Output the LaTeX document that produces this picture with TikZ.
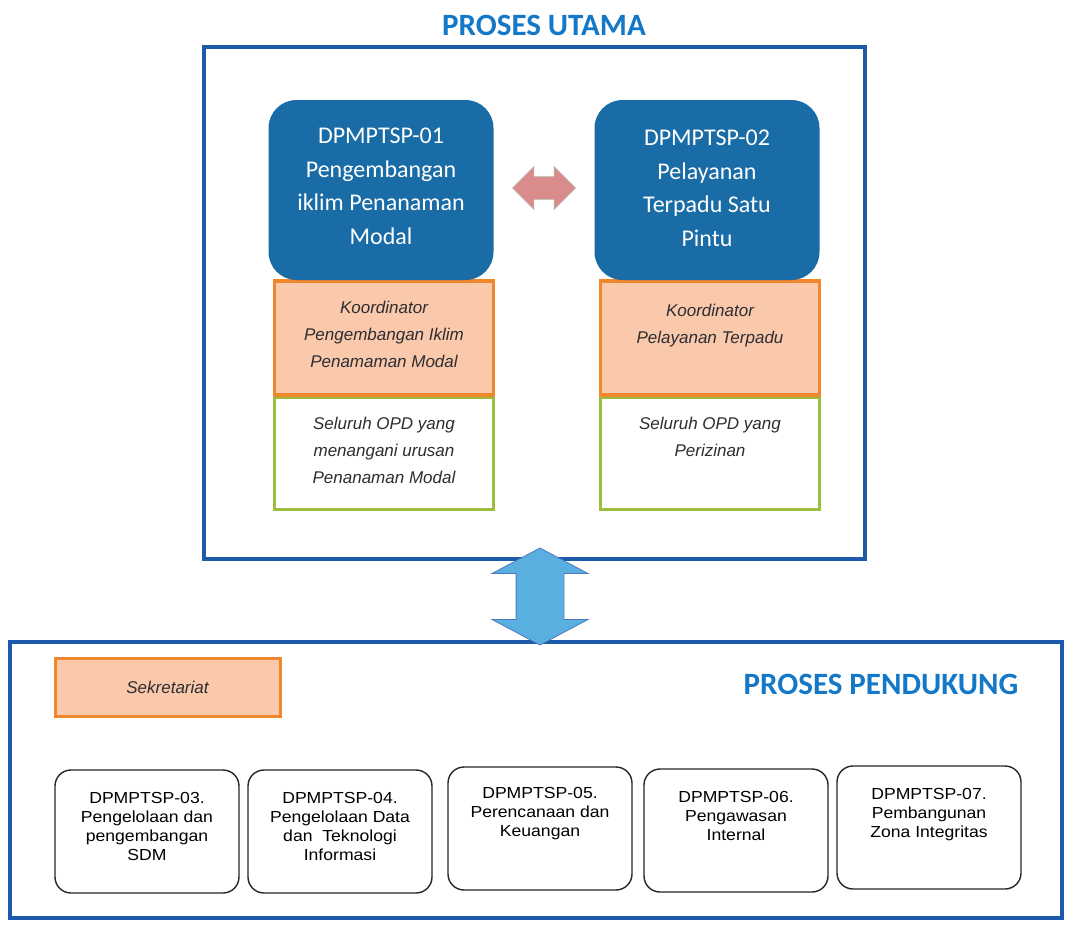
\documentclass[tikz,border=0pt]{standalone}
\usepackage{fontspec}
\usepackage{tikz}
\usetikzlibrary{shapes.arrows,calc}
\newfontfamily\calibri{Carlito}
\newfontfamily\arial{Liberation Sans}
\newfontfamily\arialwide[FakeStretch=1.1]{Liberation Sans}
\definecolor{frameblue}{RGB}{30,90,170}
\definecolor{titleblue}{RGB}{20,120,200}
\definecolor{procblue}{RGB}{25,108,165}
\definecolor{kpeach}{RGB}{250,200,170}
\definecolor{korange}{RGB}{240,135,45}
\definecolor{ogreen}{RGB}{155,190,60}
\definecolor{txtgray}{RGB}{45,45,50}
\definecolor{pinkarrow}{RGB}{218,140,140}
\definecolor{skyarrow}{RGB}{90,175,225}

\begin{document}
\begin{tikzpicture}
[x=1pt,y=-1pt,
judul/.style={font=\calibri\bfseries\fontsize{31}{36}\selectfont,text=titleblue,inner sep=0pt},
bingkai/.style={draw=frameblue,line width=3.5pt,inner sep=0pt},
proses/.style={fill=procblue,rounded corners=28pt,minimum width=225pt,minimum height=180pt,inner sep=0pt},
prosesteks/.style={anchor=north,text=white,align=center,inner sep=0pt,font=\calibri\fontsize{24}{33.5}\selectfont},
koord/.style={draw=korange,fill=kpeach,line width=3.5pt,minimum width=219pt,minimum height=114pt,inner sep=0pt},
opd/.style={draw=ogreen,fill=white,line width=3pt,minimum width=219pt,minimum height=112pt,inner sep=0pt},
miring/.style={anchor=north,text=txtgray,align=center,inner sep=0pt,font=\arial\itshape\fontsize{17}{27}\selectfont},
dukung/.style={draw=black!85,fill=white,line width=1.4pt,rounded corners=16pt,minimum width=184pt,minimum height=123pt,inner sep=0pt},
dukungteks/.style={anchor=north,text=black,align=center,inner sep=0pt,font=\arialwide\fontsize{16}{19}\selectfont}]
\useasboundingbox (0,0) rectangle (1069,926);

\node[judul] (judulutama) at (544,25) {PROSES UTAMA};
\node[bingkai,minimum width=661pt,minimum height=512pt] (utama) at (534.5,303) {};

\node[opd] (opd1) at (384,453) {};
\node[opd] (opd2) at (710,453) {};
\node[koord] (koord1) at (384,338) {};
\node[koord] (koord2) at (710,338) {};
\node[proses] (dp1) at (381,190) {};
\node[proses] (dp2) at (707,190) {};

\node[prosesteks] (dp1teks) at ([yshift=-28pt]dp1.north) {DPMPTSP-01\\Pengembangan\\iklim Penanaman\\Modal};
\node[prosesteks] (dp2teks) at ([yshift=-30pt]dp2.north) {DPMPTSP-02\\Pelayanan\\Terpadu Satu\\Pintu};
\node[miring] (koord1teks) at ([yshift=-22pt]koord1.north) {Koordinator\\Pengembangan Iklim\\Penamaman Modal};
\node[miring] (koord2teks) at ([yshift=-25pt]koord2.north) {Koordinator\\Pelayanan Terpadu};
\node[miring] (opd1teks) at ([yshift=-21pt]opd1.north) {Seluruh OPD yang\\menangani urusan\\Penanaman Modal};
\node[miring] (opd2teks) at ([yshift=-21pt]opd2.north) {Seluruh OPD yang\\Perizinan};

\node[double arrow,fill=pinkarrow,draw=gray!60,line width=0.6pt,minimum height=63pt,
  inner xsep=0pt,inner ysep=11pt,double arrow head extend=10pt,yshift=2pt] (tukar) at ($(dp1.east)!0.5!(dp2.west)$) {};

\node[bingkai,minimum width=1052pt,minimum height=276pt] (pendukung) at (536,780) {};
\node[double arrow,fill=skyarrow,draw=frameblue!80,line width=0.8pt,rotate=90,minimum height=97pt,
  inner xsep=0pt,inner ysep=23.5pt,double arrow head extend=24pt,double arrow tip angle=124] (hubung) at (540,596.5) {};

\node[draw=korange,fill=kpeach,line width=3pt,minimum width=225pt,minimum height=58pt,
  text=txtgray,font=\arial\itshape\fontsize{17}{20}\selectfont] (sekretariat) at (167.5,687) {Sekretariat};
\node[judul] (judulpendukung) at (881,684) {PROSES PENDUKUNG};

\node[dukung] (dp3) at (147,831.5) {};
\node[dukung] (dp4) at (340,831.5) {};
\node[dukung] (dp5) at (540,828.5) {};
\node[dukung] (dp6) at (736,830.5) {};
\node[dukung] (dp7) at (929,827.5) {};
\node[dukungteks] (dp3teks) at ([yshift=-23pt]dp3.north) {DPMPTSP-03.\\Pengelolaan dan\\pengembangan\\SDM};
\node[dukungteks] (dp4teks) at ([yshift=-23pt]dp4.north) {DPMPTSP-04.\\Pengelolaan Data\\dan\ \ Teknologi\\Informasi};
\node[dukungteks] (dp5teks) at ([yshift=-21pt]dp5.north) {DPMPTSP-05.\\Perencanaan dan\\Keuangan};
\node[dukungteks] (dp6teks) at ([yshift=-23pt]dp6.north) {DPMPTSP-06.\\Pengawasan\\Internal};
\node[dukungteks] (dp7teks) at ([yshift=-23pt]dp7.north) {DPMPTSP-07.\\Pembangunan\\Zona Integritas};
\end{tikzpicture}
\end{document}
